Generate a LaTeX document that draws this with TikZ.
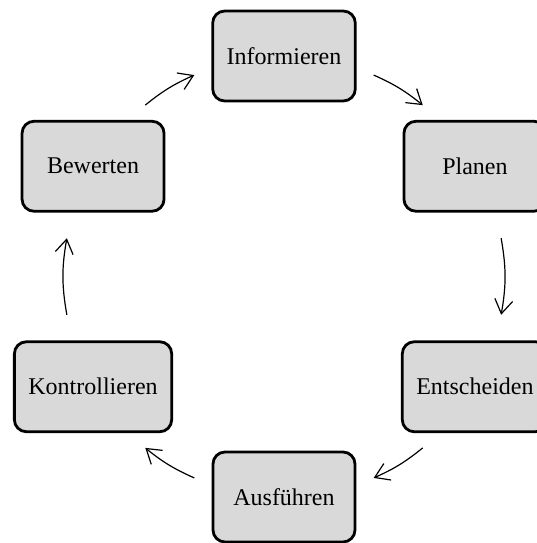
\documentclass[tikz,border=0pt]{standalone}
\usepackage{fontspec}
\setmainfont{Liberation Serif}
\usepackage{tikz}
\usetikzlibrary{arrows.meta, calc}
\newcommand{\cycleradius}{110.25pt}

\begin{document}
\begin{tikzpicture}[
    font=\fontsize{12}{14}\selectfont,
    >={Straight Barb[length=7pt, width=9pt]},
    phase/.style={draw, line width=1.4pt, rounded corners=6pt, fill=black!15,
        minimum width=71pt, minimum height=45pt, inner xsep=7pt},
    flow/.style={->, line width=0.6pt},
]
    \useasboundingbox (-142pt,-133.25pt) rectangle (126.5pt,138.25pt);
    \coordinate (ctr) at (0,0);
    % phases
    \node[phase] (info) at (90:\cycleradius) {Informieren};
    \node[phase] (plan) at (30:\cycleradius) {Planen};
    \node[phase] (ents) at (-30:\cycleradius) {Entscheiden};
    \node[phase] (ausf) at (-90:\cycleradius) {Ausführen};
    \node[phase] (kont) at (210:\cycleradius) {Kontrollieren};
    \node[phase] (bewe) at (150:\cycleradius) {Bewerten};
    % arrows along the circle
    \draw[flow] ($(ctr)!1!-24:(info)$) to[bend left=7.5] ($(ctr)!1!21:(plan)$);
    \draw[flow] ($(ctr)!1!-20:(plan)$) to[bend left=10] ($(ctr)!1!20:(ents)$);
    \draw[flow] ($(ctr)!1!-21:(ents)$) to[bend left=7.5] ($(ctr)!1!24:(ausf)$);
    \draw[flow] ($(ctr)!1!-24:(ausf)$) to[bend left=7.5] ($(ctr)!1!21:(kont)$);
    \draw[flow] ($(ctr)!1!-20:(kont)$) to[bend left=10] ($(ctr)!1!20:(bewe)$);
    \draw[flow] ($(ctr)!1!-21:(bewe)$) to[bend left=7.5] ($(ctr)!1!24:(info)$);
\end{tikzpicture}
\end{document}
